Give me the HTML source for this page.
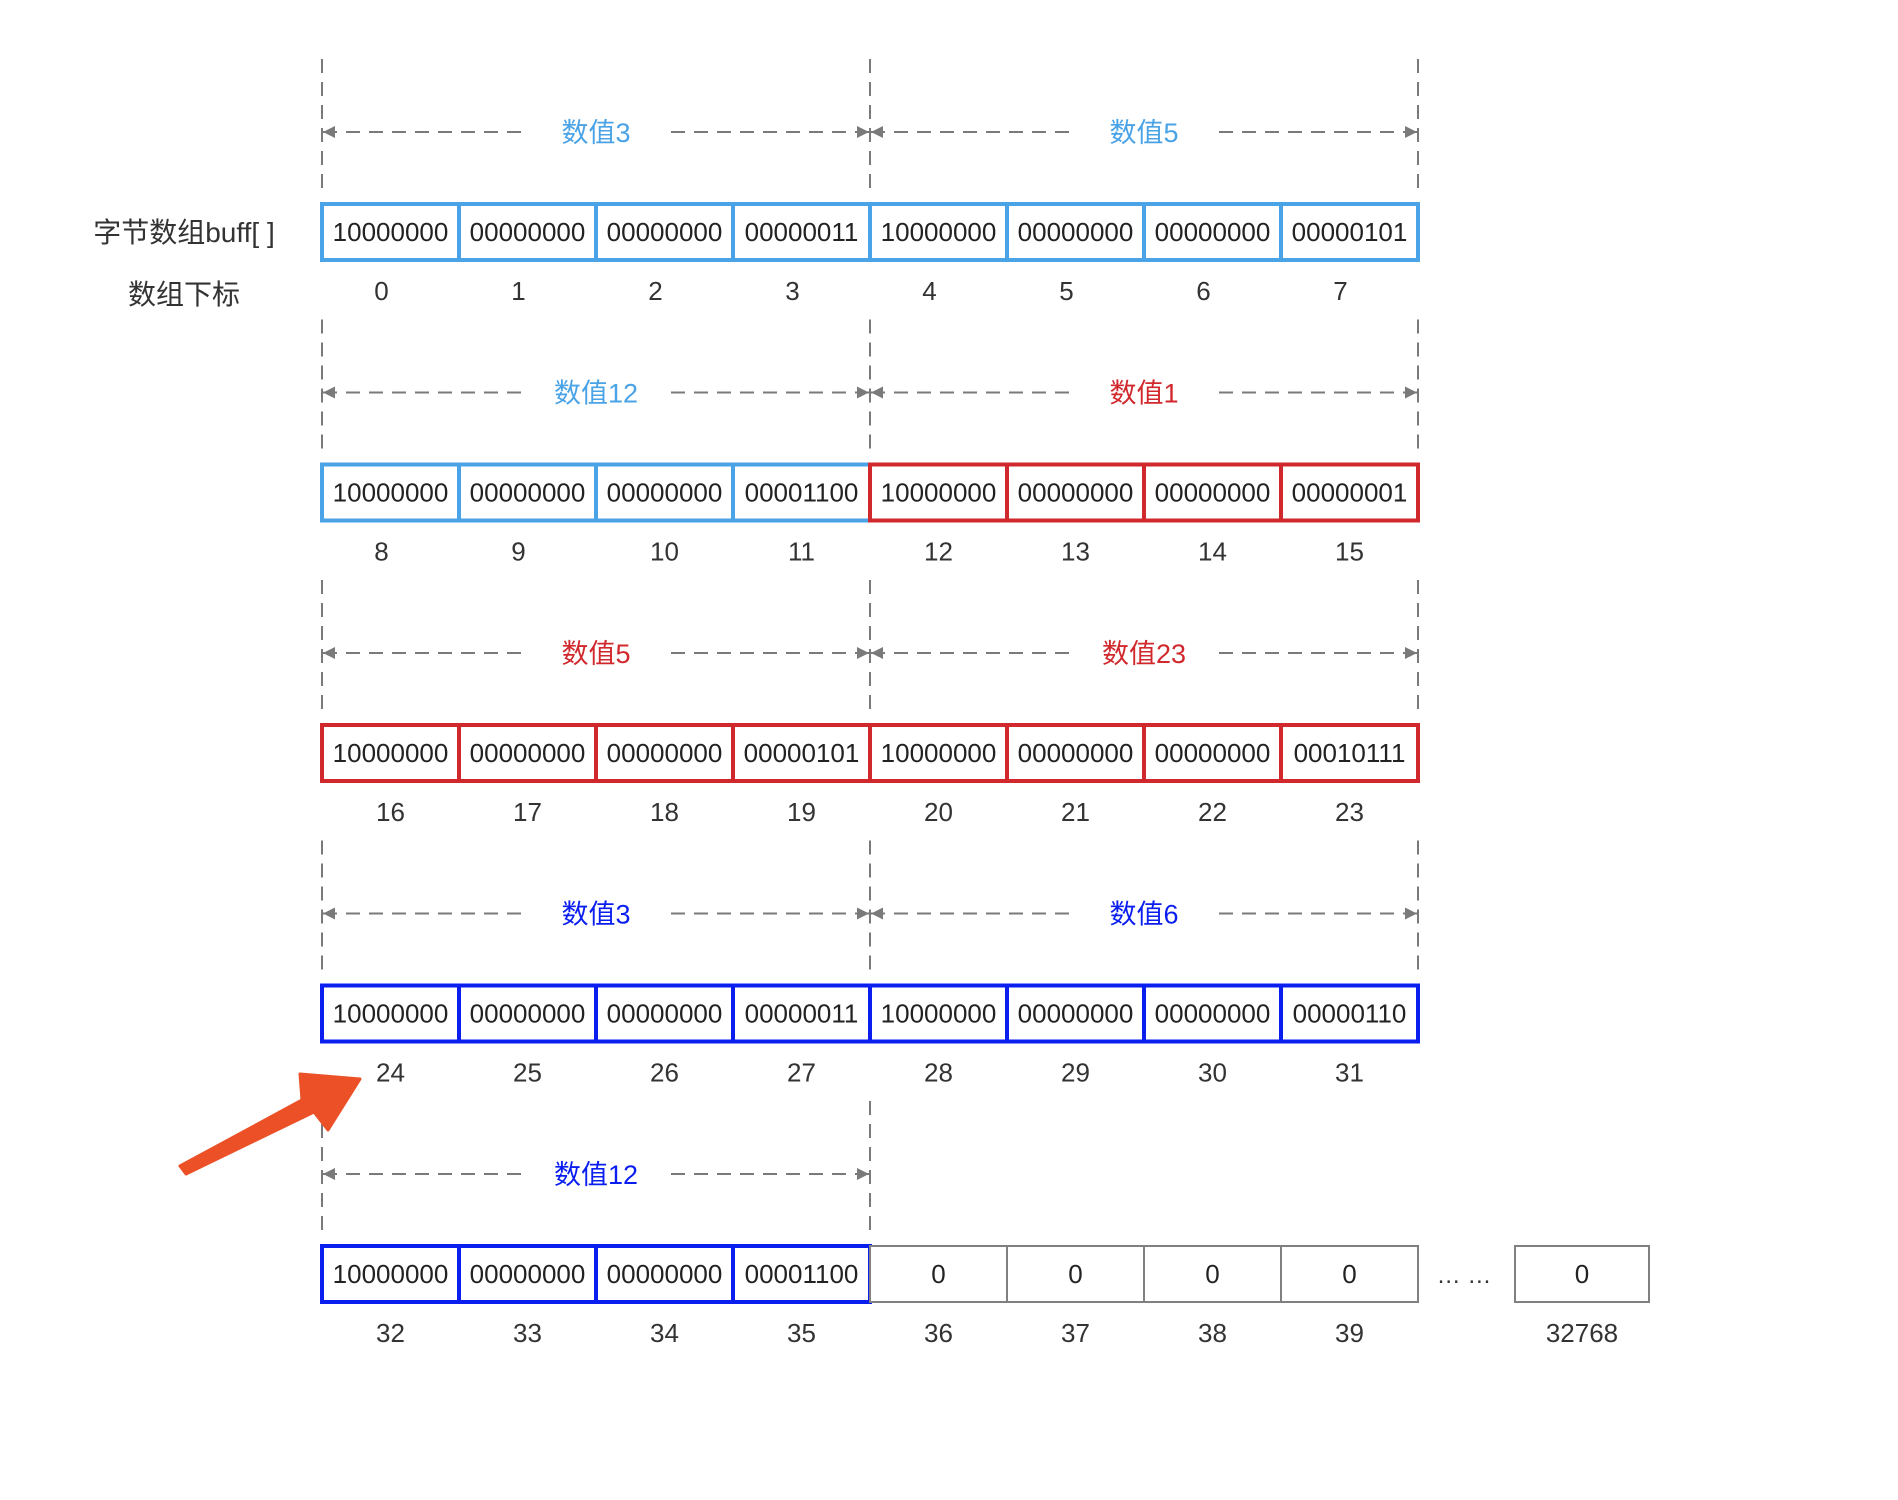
<!DOCTYPE html>
<html><head><meta charset="utf-8">
<style>
html,body{margin:0;padding:0;background:#fff;}
svg{display:block;font-family:"Liberation Sans","Noto Sans CJK SC",sans-serif;}
</style></head>
<body>
<svg id="chart" width="1898" height="1500" viewBox="0 0 1898 1500" xmlns="http://www.w3.org/2000/svg">
<defs>
<marker id="ah" viewBox="0 0 10 10" refX="10" refY="5" markerWidth="12" markerHeight="18" orient="auto-start-reverse" markerUnits="userSpaceOnUse">
<path d="M0,0 L10,5 L0,10 z" fill="#7a7a7a"/>
</marker>
</defs>
<text x="184" y="242" font-size="28" text-anchor="middle" fill="#333">字节数组buff[ ]</text>
<text x="184" y="304" font-size="28" text-anchor="middle" fill="#333">数组下标</text>
<polygon points="180,1166 302,1100 300,1074 360,1079 328,1130 314,1112 186,1174" fill="#ec5026" stroke="#ec5026" stroke-width="3" stroke-linejoin="round"/>
</svg>
<script>
const bytes = [
 ["10000000","00000000","00000000","00000011","10000000","00000000","00000000","00000101"],
 ["10000000","00000000","00000000","00001100","10000000","00000000","00000000","00000001"],
 ["10000000","00000000","00000000","00000101","10000000","00000000","00000000","00010111"],
 ["10000000","00000000","00000000","00000011","10000000","00000000","00000000","00000110"],
 ["10000000","00000000","00000000","00001100","0","0","0","0"]
];
const valueLabels = [["数值3","数值5"],["数值12","数值1"],["数值5","数值23"],["数值3","数值6"],["数值12",null]];
const groupColors = [["#4aa3e6","#4aa3e6"],["#4aa3e6","#d0282d"],["#d0282d","#d0282d"],["#0a1ef0","#0a1ef0"],["#0a1ef0",null]];
const lastIndex = "32768";

const svg = document.getElementById('chart');
const NS = "http://www.w3.org/2000/svg";
const X0 = 322, CW = 137, Y0 = 204, RH = 260.5, BH = 56;
function mk(tag, attrs){const e=document.createElementNS(NS,tag);for(const k in attrs)e.setAttribute(k,attrs[k]);svg.appendChild(e);return e;}
function xOf(i){return X0 + i*CW;}
function rowTop(r){return Y0 + r*RH;}

bytes.forEach((row, r) => {
  const top = rowTop(r);
  const halves = valueLabels[r][1] ? 2 : 1;
  for (let v = 0; v <= halves; v++) {
    const l = mk('line',{x1:xOf(v*4),x2:xOf(v*4),y1:top-145,y2:top-12,stroke:'#7a7a7a','stroke-width':2,'stroke-dasharray':'14 9'});
    
    
  }
  for (let h = 0; h < halves; h++) {
    const a = xOf(h*4), b = xOf(h*4+4), ay = top - 72, mid = (a+b)/2;
    const l1 = mk('line',{x1:mid-75,x2:a+1,y1:ay,y2:ay,stroke:'#7a7a7a','stroke-width':2,'stroke-dasharray':'14 9','marker-end':'url(#ah)'});
    
    
    const l2 = mk('line',{x1:mid+75,x2:b-1,y1:ay,y2:ay,stroke:'#7a7a7a','stroke-width':2,'stroke-dasharray':'14 9','marker-end':'url(#ah)'});
    
    
    const t = mk('text',{x:mid,y:ay+10,'font-size':27,'text-anchor':'middle',fill:groupColors[r][h]});
    t.textContent = valueLabels[r][h];
    
    
  }
  row.forEach((val, i) => {
    const h = i < 4 ? 0 : 1;
    const col = groupColors[r][h];
    const x = xOf(i);
    const rect = mk('rect',{x:x, y:top, width:CW, height:BH, fill:'#fff', stroke: col || '#808080', 'stroke-width': col ? 4 : 2});
    
    
    const t = mk('text',{x:x+CW/2,y:top+BH/2+9,'font-size':26,'text-anchor':'middle',fill:'#222'});
    t.textContent = val;
    
    
    const n = r*8+i;
    const idx = mk('text',{x:x+CW/2-(n<10?9:0),y:top+BH+40,'font-size':26,'text-anchor':'middle',fill:'#333'});
    idx.textContent = String(n);
    
    
  });
});
const lt = rowTop(4);
const dots = mk('text',{x:1464,y:lt+BH/2+9,'font-size':24,'text-anchor':'middle',fill:'#333'});
dots.textContent = '… …';


const lr = mk('rect',{x:1515,y:lt,width:134,height:BH,fill:'#fff',stroke:'#808080','stroke-width':2});


const lv = mk('text',{x:1582,y:lt+BH/2+9,'font-size':26,'text-anchor':'middle',fill:'#222'});
lv.textContent = '0';


const li = mk('text',{x:1582,y:lt+BH+40,'font-size':26,'text-anchor':'middle',fill:'#333'});
li.textContent = lastIndex;


svg.appendChild(svg.querySelector('polygon'));
</script>
</body></html>
